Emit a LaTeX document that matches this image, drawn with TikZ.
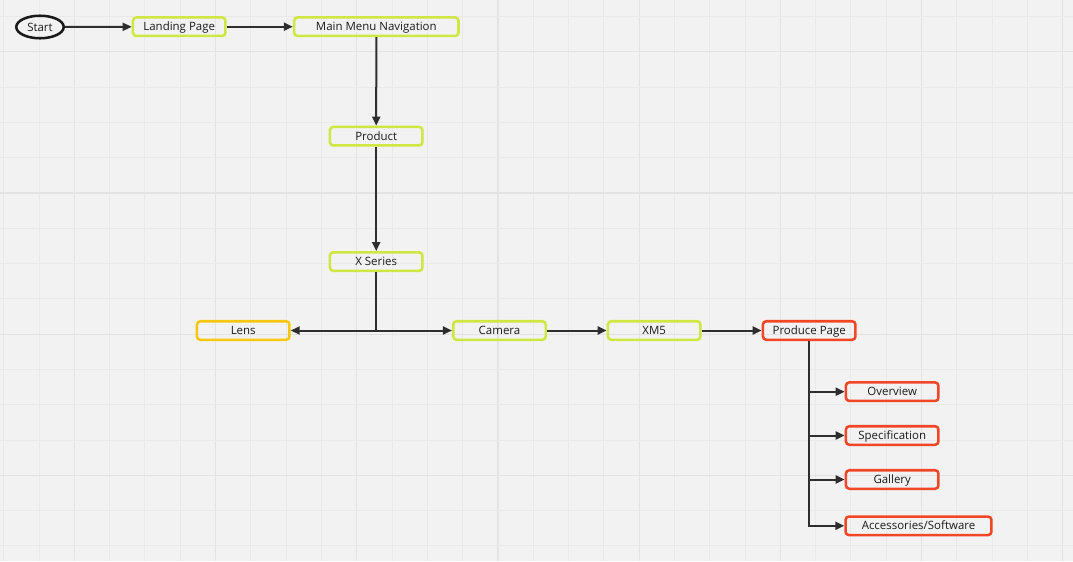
\documentclass[tikz,border=0pt]{standalone}
\usepackage{fontspec}
\setmainfont{Open Sans}
\usetikzlibrary{shapes.geometric,arrows.meta}
\definecolor{bg}{HTML}{F2F2F2}
\definecolor{gminor}{HTML}{E9E9E9}
\definecolor{gmajor}{HTML}{E3E3E3}
\definecolor{lime}{HTML}{CEE741}
\definecolor{myyellow}{HTML}{FAC710}
\definecolor{myred}{HTML}{F24726}
\definecolor{ink}{HTML}{2E2E2E}
\definecolor{txt}{HTML}{1A1A1A}
\tikzset{
  lbl/.style={text=txt, font=\fontsize{8.6pt}{10pt}\selectfont, text height=6.1pt, text depth=0pt},
  box/.style={lbl, draw, rounded corners=2.5pt, line width=1.9pt, minimum width=69.4pt,
    minimum height=13.9pt, inner sep=0pt},
  limebox/.style={box, draw=lime},
  yelbox/.style={box, draw=myyellow},
  redbox/.style={box, draw=myred},
  arr/.style={draw=ink, line width=1.5pt, -{Triangle[length=6.75pt,width=6pt]}},
  conn/.style={draw=ink, line width=1.5pt},
}
\begin{document}
\begin{tikzpicture}[x=0.75pt,y=-0.75pt]
\fill[bg] (0,0) rectangle (1073,561);
\useasboundingbox (0,0) rectangle (1073,561);
\begin{scope}
\clip (0,0) rectangle (1073,561);
\foreach \k in {0,...,30} {
  \pgfmathtruncatemacro{\m}{mod(\k,4)}
  \ifnum\m=2
    \draw[gmajor, line width=0.9pt] ({3.7+35.3*\k},0) -- ({3.7+35.3*\k},561);
  \else
    \draw[gminor, line width=0.75pt] ({3.7+35.3*\k},0) -- ({3.7+35.3*\k},561);
  \fi
}
\foreach \k in {0,...,16} {
  \pgfmathtruncatemacro{\m}{mod(\k,4)}
  \ifnum\m=1
    \draw[gmajor, line width=0.9pt] (0,{16.4+35.3*\k}) -- (1073,{16.4+35.3*\k});
  \else
    \draw[gminor, line width=0.75pt] (0,{16.4+35.3*\k}) -- (1073,{16.4+35.3*\k});
  \fi
}
\end{scope}

\node[lbl, ellipse, draw=txt, line width=1.9pt, minimum width=35.6pt, minimum height=16.9pt,
  inner sep=0pt] (start) at (40,27) {Start};
\node[limebox] (landing) at (179.2,26.7) {Landing Page};
\node[limebox, minimum width=123.3pt] (main) at (376.3,26.7) {Main Menu Navigation};
\node[limebox] (product) at (376.2,136.2) {Product};
\node[limebox] (xs) at (376.2,261.6) {X Series};
\node[yelbox] (lens) at (243.2,330.5) {Lens};
\node[limebox] (camera) at (499.5,330.5) {Camera};
\node[limebox] (xm5) at (654.2,330.5) {XM5};
\node[redbox] (pp) at (809.2,330.5) {Produce Page};
\node[redbox] (ov) at (892.2,391.7) {Overview};
\node[redbox] (spec) at (892.2,435.5) {Specification};
\node[redbox] (gal) at (892.2,479.5) {Gallery};
\node[redbox, minimum width=109.4pt] (acc) at (918.5,525.8) {Accessories/Software};
\coordinate (junc) at (376.2,330.5);

\draw[arr] (start) -- (landing);
\draw[arr] (landing) -- (main);
\draw[arr] (main.south) -- (product.north);
\draw[arr] (product) -- (xs);
\draw[conn] (xs.south) -- (junc);
\draw[arr] (junc) -- (lens);
\draw[arr] (junc) -- (camera);
\draw[arr] (camera) -- (xm5);
\draw[arr] (xm5) -- (pp);
\draw[arr] (pp.south) |- (ov.west);
\draw[arr] (pp.south) |- (spec.west);
\draw[arr] (pp.south) |- (gal.west);
\draw[arr] (pp.south) |- (acc.west);
\end{tikzpicture}
\end{document}
